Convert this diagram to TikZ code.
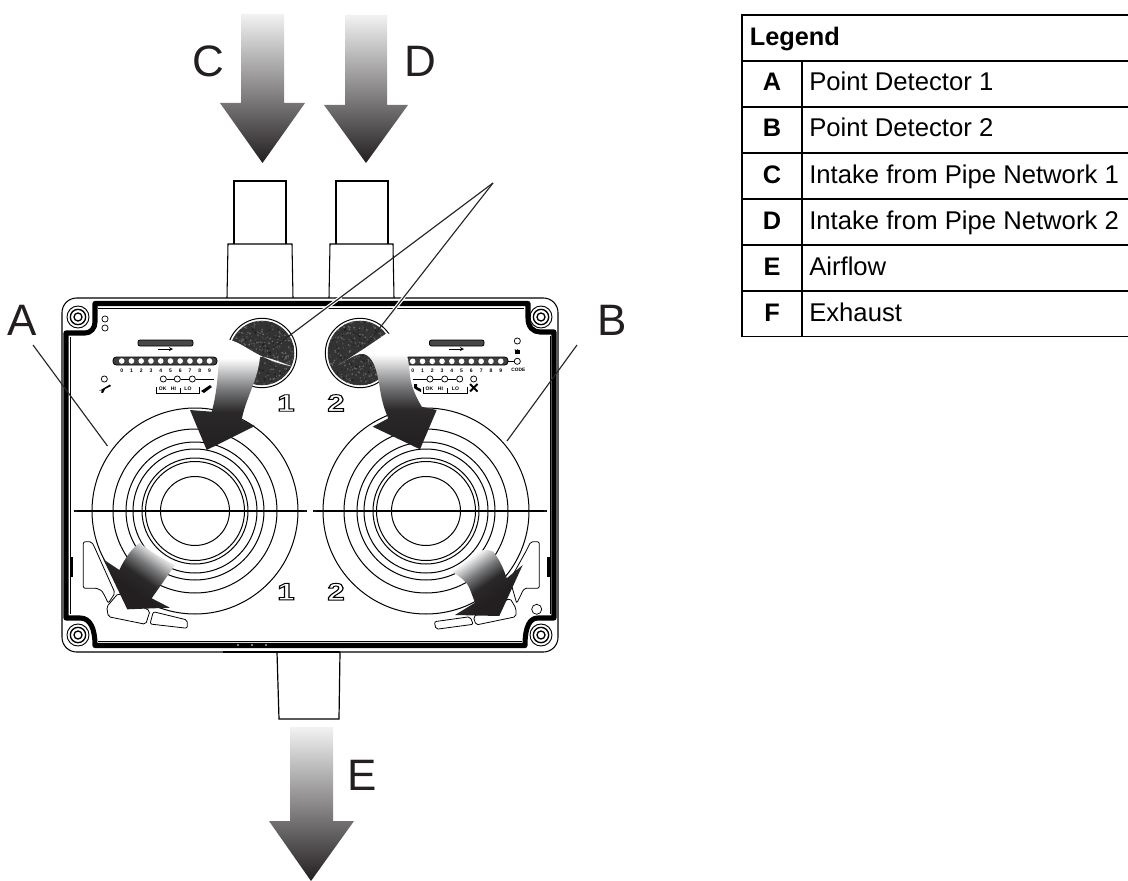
\documentclass[tikz,border=0pt]{standalone}
\usepackage{fontspec}
\setmainfont{Liberation Sans}
\newfontfamily\outfont[FakeBold=4]{Liberation Sans Bold}
\usetikzlibrary{calc}
\definecolor{arrowtop}{HTML}{F2F2F3}
\definecolor{arrowbot}{HTML}{231F20}
\definecolor{hd}{HTML}{2A2829}
\definecolor{md}{HTML}{77787A}
\pgfdeclareverticalshading{curvefade}{100bp}{color(0bp)=(arrowbot); color(25bp)=(arrowbot); color(42bp)=(hd); color(52bp)=(md); color(66bp)=(white); color(100bp)=(white)}
\pgfdeclareverticalshading{lowfade}{100bp}{color(0bp)=(arrowbot); color(38bp)=(arrowbot); color(50bp)=(hd); color(60bp)=(md); color(73bp)=(white); color(100bp)=(white)}
\newcommand{\stroked}[1]{\special{pdf:code 0 0 0 RG}#1}
\tikzset{
  px/.style={x=0.75pt,y=-0.75pt},
  thin line/.style={draw=black,line width=0.6pt},
  ring/.style={draw=black,line width=0.75pt},
  big letter/.style={font=\fontsize{33}{33}\selectfont,text=arrowbot,inner sep=0pt},
  legend text/.style={font=\fontsize{19.25}{19.25}\selectfont,anchor=base west,inner sep=0pt},
  legend key/.style={font=\fontsize{19}{19}\selectfont\bfseries,anchor=base,inner sep=0pt},
  tableline/.style={draw=black,line width=1.1pt},
  lamp/.style={circle,draw=black,fill=white,line width=0.55pt,inner sep=0pt,minimum size=4.6pt},
  led/.style={circle,fill=white,inner sep=0pt,minimum size=4.2pt},
  tiny/.style={font=\fontsize{3.8}{4}\selectfont\bfseries,inner sep=0pt},
  outdigit/.style={font=\fontsize{18}{18}\outfont,text=white,inner sep=0pt,xscale=1.3},
  slit/.style={draw=black,line width=1.1pt},
  leader/.style={draw=black!85,line width=0.85pt},
  casing/.style={draw=white,line width=2.6pt},
}
\newcommand{\screw}[3]{%
  \node[circle,draw=black,line width=0.7pt,inner sep=0pt,minimum size=16.5pt] (#3a) at (#1,#2) {};
  \node[circle,draw=black,line width=1pt,inner sep=0pt,minimum size=11.5pt] (#3b) at (#1,#2) {};
  \node[circle,draw=black,line width=1pt,inner sep=0pt,minimum size=6pt] (#3c) at (#1,#2) {};
}
\newcommand{\rings}[2]{%
  \foreach \r in {103,82,69,62,53,49.5,34.5}{\draw[ring] (#1,#2) circle[radius=\r*0.75pt];}
}
\newcommand{\filterdisc}[2]{%
  \draw[ring,fill=white] (#1,#2) circle[radius=26pt];
  \begin{scope}
    \clip (#1,#2) circle[radius=24.2pt];
    \fill[black!80] (#1,#2) circle[radius=25pt];
    \foreach \n in {1,...,420}{%
      \pgfmathsetmacro{\ang}{rnd*360}%
      \pgfmathsetmacro{\rad}{sqrt(rnd)*24.5}%
      \pgfmathsetmacro{\lev}{55+rnd*35}%
      \fill[black!\lev] ($(#1,#2)+(\ang:\rad pt)$) circle[radius=0.7pt];
    }
  \end{scope}
}
\begin{document}
\begin{tikzpicture}[px]
\useasboundingbox (0,0) rectangle (1128,881);
\pgfmathsetseed{42}

% straight arrows
\shade[top color=arrowtop,bottom color=arrowbot] (241,14) -- (284,14) -- (284,103) -- (305,103) -- (262.5,163) -- (220,103) -- (241,103) -- cycle;
\shade[top color=arrowtop,bottom color=arrowbot] (345,15) -- (387,15) -- (387,105) -- (408,105) -- (366,163) -- (324,105) -- (345,105) -- cycle;
\shade[top color=arrowtop,bottom color=arrowbot] (290,727) -- (333,727) -- (333,821) -- (354,821) -- (311,881) -- (269,821) -- (290,821) -- cycle;

% pipes
\draw[thin line,line width=0.9pt] (234,244) -- (234,181) -- (286,181) -- (286,244);
\draw[thin line,line width=0.8pt] (227,298) -- (228,244) -- (292,244) -- (293,298);
\draw[thin line,line width=0.9pt] (336,244) -- (336,181) -- (388,181) -- (388,244);
\draw[thin line,line width=0.8pt] (329,298) -- (330,244) -- (393,244) -- (394,298);
\draw[thin line,line width=0.9pt] (277,652) -- (279,719) -- (339,719) -- (340,652);

% housing
\draw[thin line,line width=0.8pt,fill=white,rounded corners=11pt] (62,298) rectangle (558,652);
\draw[draw=black,line width=3.8pt,line join=round]
  (95,303.5) -- (528,303.5) -- (528,318) .. controls (528,327) and (533,332) .. (540,332) -- (554,332)
  -- (554,618) -- (538,618) .. controls (530,618) and (525,626) .. (525,645.5)
  -- (95,645.5) .. controls (95,628) and (90,618) .. (80,618) -- (66,618)
  -- (66,333) -- (85,333) .. controls (91,333) and (95,328) .. (95,322) -- cycle;
\draw[thin line] (98,308) -- (524,308);
\draw[thin line] (98,641) -- (522,641);
\draw[thin line] (70,337) -- (70,614);
\draw[thin line] (550,336) -- (550,614);
\draw[draw=black,line width=1.6pt] (223,652) -- (340,652);
\foreach \x in {238,252,266}{\fill[white] (\x,645) circle[radius=0.7pt];}
\draw[draw=black,line width=2pt] (71.5,557) -- (71.5,577);
\draw[draw=black,line width=2pt] (548.5,557) -- (548.5,577);
\screw{78}{317}{sTL}
\screw{541}{317}{sTR}
\screw{78}{635}{sBL}
\screw{541}{635}{sBR}

% large rings
\rings{195}{511}
\rings{426}{511}
\draw[slit] (74,511) -- (307,511);
\draw[slit] (313,511) -- (547,511);
\foreach \x in {76,305,315,545}{\fill[white] (\x,511) circle[radius=0.35pt];}

% filters
\filterdisc{262}{353}
\filterdisc{360}{353}

% display left
\node[lamp] (l1) at (105,319) {};
\node[lamp] (l2) at (105,328) {};
\draw[thin line,fill=black!72,rounded corners=1.5pt] (138,340) rectangle (193,346);
\draw[thin line,line width=0.4pt,->,>=stealth] (158,349) -- (173,349);
\draw[draw=black,fill=black!75,rounded corners=2.5pt,line width=0.6pt] (113,357) rectangle (217,365);
\foreach \i in {0,...,9}{
  \node[led] (lL\i) at ({121.7+9.75*\i},361) {};
  \node[tiny] (tL\i) at ({121.7+9.75*\i},370.5) {\i};
}
\node[lamp] (p0) at (104.3,379) {};
\node[lamp] (p1) at (163.3,379) {};
\node[lamp] (p2) at (177.3,379) {};
\node[lamp] (p3) at (192.3,379) {};
\coordinate (p4) at (214,379);
\draw[thin line,line width=0.45pt] (p1) -- (p2);
\draw[thin line,line width=0.45pt] (p2) -- (p3);
\draw[thin line,line width=0.45pt] (p3) -- (p4);
\draw[thin line,line width=0.5pt] (156,387) -- (156,393) -- (199,393) -- (199,387);
\draw[thin line,line width=0.5pt] (180,393) -- (180,388);
\node[tiny] (okL) at (162.7,388.5) {OK};
\node[tiny] (hiL) at (173.5,388.5) {HI};
\node[tiny] (loL) at (188,388.5) {LO};
\fill[black] (99,391) -- (110,384.5) -- (111,386) -- (105,389) -- (103,393) -- (101,392.5) -- (102,390) -- cycle;
\fill[black] (201,391) -- (210,385) -- (212,387) -- (204,393) -- cycle;
\node[outdigit] (n1t) at (286,403) {\stroked{1}};

% display right
\draw[thin line,fill=black!72,rounded corners=1.5pt] (429.5,340) rectangle (484,346);
\draw[thin line,line width=0.4pt,->,>=stealth] (449,349) -- (464,349);
\draw[draw=black,fill=black!75,rounded corners=2.5pt,line width=0.6pt] (405,357) rectangle (508,365);
\foreach \i in {0,...,9}{
  \node[led] (lR\i) at ({412.7+9.78*\i},361.3) {};
  \node[tiny] (tR\i) at ({412.7+9.78*\i},370.5) {\i};
}
\node[lamp] (r0) at (517.3,361.3) {};
\draw[draw=black,line width=1pt] (508,361.3) -- (r0);
\node[lamp] (r1) at (517.3,341) {};
\node[tiny,font=\fontsize{3.6}{4}\selectfont\bfseries] (code) at (518.3,370.3) {CODE};
\fill[black] (514.5,349.5) rectangle (519.5,354);
\draw[black,line width=0.6pt] (518,349.5) arc (0:180:1.6);
\node[lamp] (q1) at (430,379) {};
\node[lamp] (q2) at (444.7,379) {};
\node[lamp] (q3) at (459.7,379) {};
\node[lamp] (q4) at (473.7,379) {};
\coordinate (q0) at (413,379);
\draw[thin line,line width=0.45pt] (q0) -- (q1);
\draw[thin line,line width=0.45pt] (q1) -- (q2);
\draw[thin line,line width=0.45pt] (q2) -- (q3);
\draw[thin line,line width=0.5pt] (423,387) -- (423,393) -- (467,393) -- (467,387);
\draw[thin line,line width=0.5pt] (447,393) -- (447,388);
\node[tiny] (okR) at (429.5,388.5) {OK};
\node[tiny] (hiR) at (440.5,388.5) {HI};
\node[tiny] (loR) at (455.5,388.5) {LO};
\fill[black] (414,384) -- (417,384) -- (417,387) -- (421,389) -- (421,392) -- (417,390) -- (414,388) -- cycle;
\draw[black,line width=1.5pt] (470,384) -- (477.5,391.5) (477.5,384) -- (470,391.5);
\node[outdigit] (n2t) at (336,403) {\stroked{2}};
\node[outdigit] (n1b) at (286,591.7) {\stroked{1}};
\node[outdigit] (n2b) at (336,591.7) {\stroked{2}};

% lower blades
\draw[thin line,fill=white,line join=round,rounded corners=1.5pt] (83.3,541.7) -- (91.7,541.7) -- (94.3,546.7) -- (115,593) -- (108.3,603.3) -- (103.3,593) .. controls (101,590) and (97,588.3) .. (93.3,588.3) -- (83.3,588.3) -- cycle;
\draw[thin line,fill=white,rounded corners=1.5pt] (106.7,606.7) -- (118.3,593.3) -- (150,611) -- (145.7,624.3) -- (108.3,616.7) -- cycle;
\draw[thin line,fill=white,rounded corners=1.5pt] (153.3,611.7) -- (187.3,620) -- (187.3,628.3) -- (150,624) -- cycle;
\draw[thin line,fill=white,rounded corners=1.5pt] (539.3,541.7) -- (530.7,541.7) -- (526.7,550) -- (510,580) -- (516.7,603.3) -- (521.7,593.3) .. controls (523,590) and (525,588.3) .. (528.3,588.3) -- (539.3,588.3) -- cycle;
\draw[thin line,fill=white,rounded corners=1.5pt] (510,598.3) -- (516,608.3) -- (516,616.7) -- (476,625) -- (473.3,616.7) -- cycle;
\draw[thin line,fill=white,rounded corners=1.5pt] (470,616.7) -- (473.3,624.3) -- (436,629.3) -- (434.3,621.7) -- cycle;
\node[lamp,minimum size=7.5pt] (hole) at (536.7,609.3) {};

% leader lines
\coordinate (aS) at (33,345);
\coordinate (aE) at (107.5,446);
\coordinate (bS) at (577,345);
\coordinate (bE) at (507,441);
\coordinate (fS) at (493,183);
\coordinate (fL) at (273,348);
\coordinate (fR) at (368,343);
\draw[casing] ($(fS)!0.69!(fL)$) -- ($(fS)!0.79!(fL)$);
\draw[casing] ($(fS)!0.71!(fR)$) -- ($(fS)!0.81!(fR)$);
\draw[leader] (aS) -- (aE);
\draw[leader] (bS) -- (bE);
\draw[leader] (fS) -- (fL);
\draw[leader] (fS) -- (fR);

% curved arrows
\shade[shading=curvefade]
  (225,340) .. controls (240,338) and (255,360) .. (293.3,366.7)
  .. controls (280,362) and (268,357) .. (260,356.7)
  .. controls (258,380) and (245,400) .. (241.7,420)
  -- (255,426) -- (206.7,450) -- (190,410) -- (211.7,411.7)
  .. controls (218,390) and (218,365) .. (220,350) -- cycle;
\shade[shading=curvefade]
  (338.3,365) .. controls (350,358) and (370,345) .. (386.7,333.3)
  .. controls (400,335) and (408,345) .. (410,376.7)
  .. controls (412,390) and (418,400) .. (421.7,406.7)
  -- (436.7,410) -- (420,449.3) -- (372.7,426.7) -- (388.3,418.3)
  .. controls (380,400) and (380,385) .. (378.3,380)
  .. controls (376,365) and (370,352) .. (360,354)
  .. controls (352,356) and (345,361) .. (338.3,365) -- cycle;
\shade[shading=lowfade,shading angle=-35]
  (140,542.7) .. controls (150,552) and (165,560) .. (175,565)
  -- (151.7,598.3) -- (170,607.7) -- (127.3,609.3) -- (103.3,559.3) -- (119.3,570)
  .. controls (125,558) and (132,548) .. (140,542.7) -- cycle;
\shade[shading=lowfade,shading angle=35]
  (451.7,571.7) .. controls (465,562) and (475,553) .. (483.3,550)
  .. controls (488,550) and (491,550) .. (493.3,551.7)
  .. controls (500,560) and (504,570) .. (506.7,578.3)
  -- (522.7,565) -- (499.3,616) -- (455,615) -- (475,602.7)
  .. controls (472,595) and (470,588) .. (466.7,583.3)
  .. controls (462,578) and (456,574) .. (451.7,571.7) -- cycle;

% letters
\node[big letter] (lblA) at (22,320) {A};
\node[big letter] (lblB) at (612,320) {B};
\node[big letter] (lblC) at (208,61) {C};
\node[big letter] (lblD) at (420,61) {D};
\node[big letter] (lblE) at (362.5,775) {E};

% legend
\coordinate (tTL) at (742,15);
\coordinate (tTR) at (1128,15);
\coordinate (tBL) at (742,336.7);
\coordinate (tBR) at (1128,336.7);
\coordinate (cT) at (802,61);
\coordinate (cB) at (802,336.7);
\draw[tableline] (tBR) -- (tBL) -- (tTL) -- (tTR);
\draw[tableline] (cT) -- (cB);
\foreach \y in {61,107,153,199,245,291}{\draw[tableline] (742,\y) -- (1128,\y);}
\node[legend text,font=\fontsize{19}{19}\selectfont\bfseries] (leg) at (749.5,45.5) {Legend};
\node[legend key] (kA) at (772,91) {A};
\node[legend key] (kB) at (772,137) {B};
\node[legend key] (kC) at (772,183) {C};
\node[legend key] (kD) at (772,229) {D};
\node[legend key] (kE) at (772,275) {E};
\node[legend key] (kF) at (772,321) {F};
\node[legend text] (vA) at (809,91) {Point Detector 1};
\node[legend text] (vB) at (809,137) {Point Detector 2};
\node[legend text] (vC) at (809,183) {Intake from Pipe Network 1};
\node[legend text] (vD) at (809,229) {Intake from Pipe Network 2};
\node[legend text] (vE) at (809,275) {Airflow};
\node[legend text] (vF) at (809,321) {Exhaust};
\end{tikzpicture}
\end{document}
